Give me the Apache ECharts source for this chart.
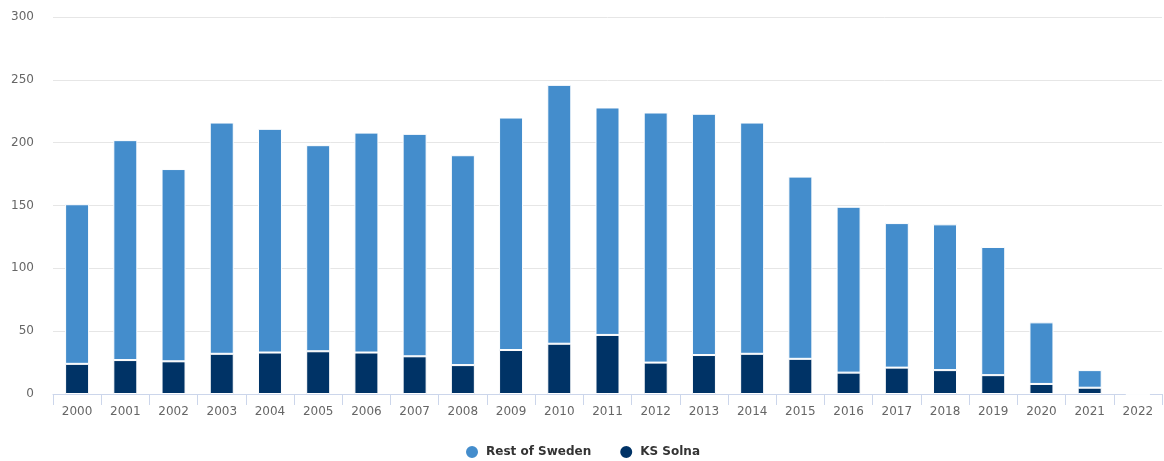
<!DOCTYPE html>
<html>
<head>
<meta charset="utf-8">
<script src="https://cdn.jsdelivr.net/npm/echarts@6/dist/echarts.min.js"></script>
<style>
  html, body { margin: 0; padding: 0; background: #fff; }
  #chart { width: 1164px; height: 461px; }
</style>
</head>
<body>
<div id="chart"></div>
<script>
// Yearly counts, split into KS Solna and the rest of Sweden
const years = ['2000','2001','2002','2003','2004','2005','2006','2007','2008','2009','2010','2011',
               '2012','2013','2014','2015','2016','2017','2018','2019','2020','2021','2022'];
const ksSolna = [24, 27, 26, 32, 33, 34, 33, 30, 23, 35, 40, 47, 25, 31, 32, 28, 17, 21, 19, 15, 8, 5, 0];
const restOfSweden = [127, 175, 153, 184, 178, 164, 175, 177, 167, 185, 206, 181, 199, 192, 184, 145, 132, 115, 116, 102, 49, 14, 0];
const yTicks = { min: 0, max: 300, interval: 50 };

const font = 'DejaVu Sans, Verdana, sans-serif';
const chart = echarts.init(document.getElementById('chart'), null, { renderer: 'canvas' });

chart.setOption({
  animation: false,
  textStyle: { fontFamily: font },
  grid: { left: 53, right: 2, top: 17, bottom: 67, containLabel: false },
  legend: {
    data: ['Rest of Sweden', 'KS Solna'],
    left: 'center',
    top: 439,
    icon: 'circle',
    itemWidth: 14,
    itemHeight: 14,
    itemGap: 27,
    textStyle: { fontFamily: font, fontSize: 12, fontWeight: 'bold', color: '#333', padding: [0, 0, 0, 2] }
  },
  xAxis: {
    type: 'category',
    data: years,
    boundaryGap: true,
    axisLine: { lineStyle: { color: '#ccd6eb', width: 1 } },
    axisTick: { show: true, length: 11, lineStyle: { color: '#ccd6eb' } },
    axisLabel: { color: '#666', fontSize: 12, margin: 12, fontFamily: font }
  },
  yAxis: {
    type: 'value',
    min: yTicks.min,
    max: yTicks.max,
    interval: yTicks.interval,
    axisLine: { show: false },
    axisTick: { show: false },
    splitLine: { lineStyle: { color: '#e6e6e6', width: 1 } },
    axisLabel: { color: '#666', fontSize: 12, margin: 19, fontFamily: font }
  },
  series: [
    {
      name: 'KS Solna',
      type: 'bar',
      stack: 'total',
      barWidth: 24,
      data: ksSolna,
      itemStyle: { color: '#003366', borderColor: '#fff', borderWidth: 1 }
    },
    {
      name: 'Rest of Sweden',
      type: 'bar',
      stack: 'total',
      barWidth: 24,
      data: restOfSweden,
      itemStyle: { color: '#448dcc', borderColor: '#fff', borderWidth: 1 }
    }
  ]
});
</script>
</body>
</html>
